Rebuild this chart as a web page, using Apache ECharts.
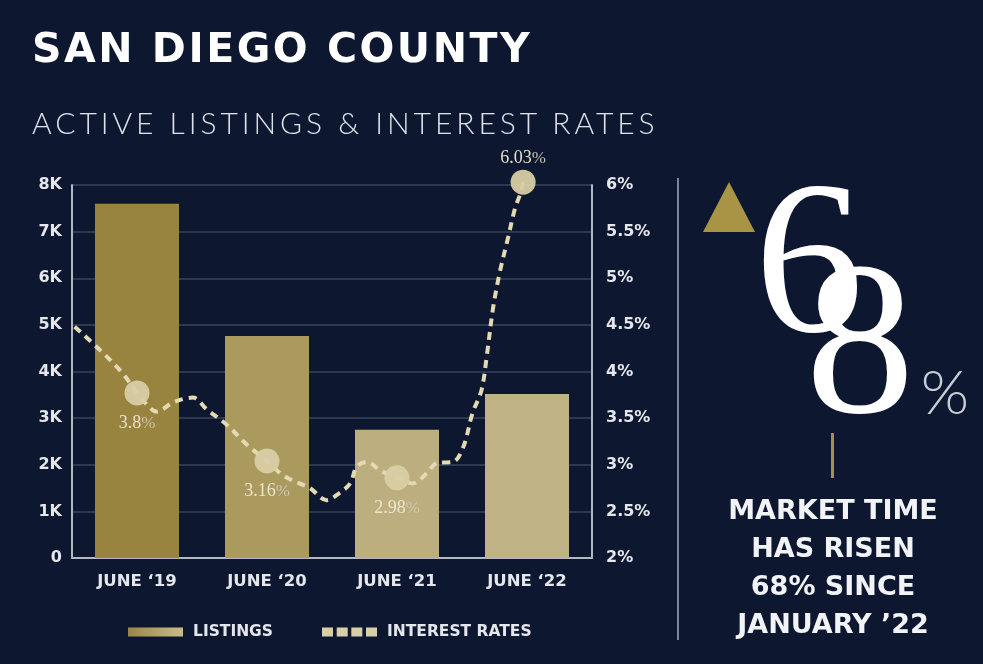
<!DOCTYPE html>
<html>
<head>
<meta charset="utf-8">
<script src="https://cdn.jsdelivr.net/npm/echarts@6/dist/echarts.min.js"></script>
<style>
  html, body { margin:0; padding:0; background:#0d1830; }
  #wrap { position:relative; width:983px; height:664px; overflow:hidden; background:#0d1830; }
  #chart { position:absolute; left:0; top:0; width:983px; height:664px; }
  .t1 { position:absolute; left:32px; top:28px; font-family:"DejaVu Sans", sans-serif; font-weight:bold; font-size:41px; letter-spacing:2.5px; color:#ffffff; white-space:nowrap; line-height:1; }
  .t2 { position:absolute; left:32px; top:107px; font-family:"Lato", sans-serif; font-weight:300; font-size:30px; letter-spacing:3.95px; color:#dfe2ea; white-space:nowrap; line-height:1; }
</style>
</head>
<body>
<div id="wrap">
  <div id="chart"></div>
  <div class="t1">SAN DIEGO COUNTY</div>
  <div class="t2">ACTIVE LISTINGS &amp; INTEREST RATES</div>
</div>
<script>
const categories = ['JUNE \u201819', 'JUNE \u201820', 'JUNE \u201821', 'JUNE \u201822'];
const listings = [7600, 4760, 2750, 3520];
const barColors = ['#98833f', '#aa9a5e', '#bcae7e', '#bfb285'];
const leftTicks = ['0', '1K', '2K', '3K', '4K', '5K', '6K', '7K', '8K'];
const rightTicks = ['2%', '2.5%', '3%', '3.5%', '4%', '4.5%', '5%', '5.5%', '6%'];
// interest-rate curve, x in category units (0..4), y in %
const rateCurveX = [0.02, 0.215, 0.39, 0.5, 0.6, 0.65, 0.78, 0.93, 1.04, 1.19, 1.35, 1.5, 1.62, 1.75, 1.83, 1.96, 2.04, 2.14, 2.19, 2.27, 2.37, 2.5, 2.62, 2.73, 2.81, 2.93, 3.01, 3.08, 3.15, 3.19, 3.24, 3.29, 3.35, 3.41, 3.45, 3.47];
const rateCurveY = [4.48, 4.23, 3.98, 3.77, 3.61, 3.57, 3.67, 3.72, 3.59, 3.43, 3.21, 3.04, 2.89, 2.80, 2.75, 2.62, 2.68, 2.80, 2.98, 3.03, 2.94, 2.86, 2.80, 2.91, 3.02, 3.03, 3.19, 3.55, 3.80, 4.16, 4.69, 5.06, 5.41, 5.76, 5.91, 6.03];
const rateMarkerX = [0.5, 1.5, 2.5, 3.47];
const rateMarkerY = [3.77, 3.04, 2.86, 6.03];
const rateLabels = ['3.8%', '3.16%', '2.98%', '6.03%'];
const rateLabelPos = ['bottom', 'bottom', 'bottom', 'top'];

const chart = echarts.init(document.getElementById('chart'), null, { renderer: 'canvas' });
const axisFont = { fontFamily: 'DejaVu Sans', fontWeight: 'bold', color: '#e6e7ec' };
const axisLineColor = '#b4b8c3';

const option = {
  backgroundColor: 'transparent',
  animation: false,
  grid: { left: 72, right: 391, top: 185, bottom: 106, containLabel: false },
  legend: {
    left: 123, top: 619,
    itemWidth: 55, itemHeight: 9, itemGap: 49,
    textStyle: { fontFamily: 'DejaVu Sans', fontWeight: 'bold', fontSize: 15.5, color: '#e6e7ec', padding: [0, 0, 0, 5] },
    data: [
      { name: 'LISTINGS', icon: 'rect' },
      { name: 'INTEREST RATES', icon: 'path://M0,0h11v9h-11z M14.7,0h11v9h-11z M29.3,0h11v9h-11z M44,0h11v9h-11z' }
    ]
  },
  xAxis: [
    {
      type: 'category', data: categories, gridIndex: 0,
      axisLine: { show: true, lineStyle: { color: axisLineColor, width: 2 } },
      axisTick: { show: false },
      axisLabel: Object.assign({ fontSize: 16.5, margin: 15 }, axisFont)
    },
    { type: 'value', min: 0, max: 4, show: false, gridIndex: 0 }
  ],
  yAxis: [
    {
      type: 'value', min: 0, max: 8000, interval: 1000, position: 'left',
      axisLine: { show: true, lineStyle: { color: axisLineColor, width: 2 } },
      axisTick: { show: false },
      splitLine: { show: true, lineStyle: { color: '#39435a', width: 1.5 } },
      axisLabel: Object.assign({ fontSize: 16, margin: 10, formatter: (v) => leftTicks[Math.round(v / 1000)] }, axisFont)
    },
    {
      type: 'value', min: 2, max: 6, interval: 0.5, position: 'right',
      axisLine: { show: true, lineStyle: { color: axisLineColor, width: 2 } },
      axisTick: { show: false },
      splitLine: { show: false },
      axisLabel: Object.assign({ fontSize: 16, margin: 14, formatter: (v) => rightTicks[Math.round((v - 2) / 0.5)] }, axisFont)
    }
  ],
  series: [
    {
      name: 'LISTINGS', type: 'bar', xAxisIndex: 0, yAxisIndex: 0, barWidth: 84, z: 2,
      itemStyle: { color: new echarts.graphic.LinearGradient(0, 0, 1, 0, [{ offset: 0, color: '#9a8646' }, { offset: 1, color: '#c9bb8a' }]) },
      data: listings.map((v, i) => ({ value: v, itemStyle: { color: barColors[i] } }))
    },
    {
      name: 'INTEREST RATES', type: 'line', xAxisIndex: 1, yAxisIndex: 1, z: 3, clip: false,
      smooth: 0.35, showSymbol: false, symbol: 'none',
      itemStyle: { color: '#d9cfa6' },
      lineStyle: { color: '#e3d9b2', width: 4, type: [8, 6], cap: 'butt' },
      data: rateCurveX.map((x, i) => [x, rateCurveY[i]])
    },
    {
      name: 'rate points', type: 'scatter', xAxisIndex: 1, yAxisIndex: 1, z: 4, clip: false,
      symbolSize: 25,
      itemStyle: { color: '#d8cea4', opacity: 0.95 },
      label: {
        show: true,
        formatter: (p) => { const s = rateLabels[p.dataIndex]; return '{n|' + s.slice(0, -1) + '}{p|%}'; },
        rich: {
          n: { fontFamily: 'Liberation Serif', fontSize: 18, color: '#efe9d4' },
          p: { fontFamily: 'Liberation Serif', fontSize: 17, color: '#cfc9b4' }
        }
      },
      data: rateMarkerX.map((x, i) => ({ value: [x, rateMarkerY[i]], label: { position: rateLabelPos[i], distance: rateLabelPos[i] === 'top' ? 2 : 9 } }))
    }
  ],
  graphic: [
    { type: 'rect', shape: { x: 677, y: 178, width: 2, height: 462 }, style: { fill: '#7e8598' } },
    { type: 'polygon', shape: { points: [[703, 232], [755, 232], [729, 182]] }, style: { fill: '#a99445' } },
    { type: 'text', style: { x: 809, y: 274, text: '6', font: '218px "Liberation Serif"', fill: '#ffffff', align: 'center', verticalAlign: 'middle' } },
    { type: 'text', style: { x: 860, y: 355, text: '8', font: '218px "Liberation Serif"', fill: '#ffffff', align: 'center', verticalAlign: 'middle' } },
    { type: 'text', style: { x: 945, y: 394, text: '%', font: '300 62px "Lato"', fill: '#c9cdd8', align: 'center', verticalAlign: 'middle' } },
    { type: 'rect', shape: { x: 831, y: 433, width: 3, height: 45 }, style: { fill: '#a48f50' } },
    { type: 'text', style: { x: 833, y: 493, text: 'MARKET TIME\nHAS RISEN\n68% SINCE\nJANUARY \u201922', font: 'bold 27px "DejaVu Sans"', lineHeight: 38, fill: '#f2f3f6', align: 'center', verticalAlign: 'top' } }
  ]
};
chart.setOption(option);
</script>
</body>
</html>
